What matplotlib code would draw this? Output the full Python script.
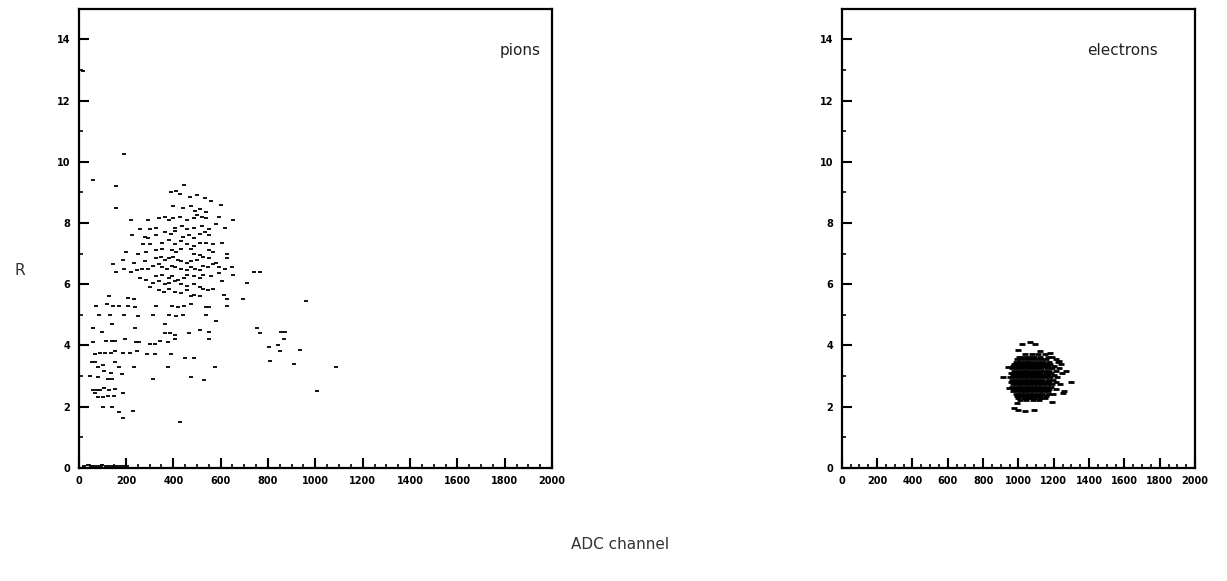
import numpy as np
import matplotlib.pyplot as plt

# pion sample: ADC channel and R
pion_adc = [20, 60, 160, 190, 447, 390, 410, 430, 470, 500, 533, 560, 600, 400, 440, 473,
            490, 515, 540, 160, 340, 365, 380, 400, 430, 460, 487, 500, 520, 540, 593, 653,
            220, 293, 300, 327, 260, 407, 435, 460, 487, 520, 553, 580, 620, 227, 280, 293,
            327, 367, 390, 407, 440, 465, 487, 513, 533, 553, 353, 380, 407, 433, 460, 487,
            513, 540, 567, 607, 273, 300, 327, 353, 393, 413, 433, 473, 487, 513, 553, 567,
            200, 253, 287, 627, 327, 347, 367, 380, 400, 420, 433, 460, 473, 500, 527, 553,
            580, 627, 147, 187, 233, 280, 313, 340, 353, 373, 393, 407, 433, 460, 473, 493,
            513, 527, 547, 567, 593, 620, 647, 160, 193, 220, 247, 267, 293, 327, 353, 380,
            393, 420, 447, 460, 487, 513, 527, 560, 593, 653, 740, 767, 260, 287, 313, 340,
            367, 380, 407, 433, 460, 487, 513, 527, 547, 567, 607, 713, 300, 340, 360, 380,
            407, 433, 460, 473, 487, 513, 613, 627, 693, 960, 127, 207, 233, 73, 120, 147,
            173, 207, 240, 327, 393, 420, 447, 473, 540, 553, 627, 87, 133, 193, 253, 313,
            380, 410, 440, 540, 367, 140, 580, 60, 100, 240, 367, 387, 407, 467, 513, 553,
            753, 767, 873, 856, 63, 116, 143, 156, 196, 243, 256, 303, 323, 343, 376, 409,
            549, 843, 869, 803, 69, 89, 110, 136, 156, 189, 216, 249, 289, 323, 389, 449,
            489, 849, 936, 809, 56, 69, 103, 156, 83, 169, 236, 376, 576, 909, 1089, 49,
            83, 109, 136, 123, 143, 183, 316, 476, 529, 63, 76, 89, 109, 129, 156, 69, 83,
            103, 123, 149, 189, 1009, 103, 143, 169, 229, 189, 429,
            25, 40, 55, 70, 85, 100, 115, 130, 145, 160, 175, 190, 205]
pion_r = [12.95, 9.4, 9.2, 10.25, 9.25, 9.0, 9.05, 8.95, 8.85, 8.9, 8.8, 8.7, 8.6, 8.55, 8.5, 8.55,
          8.4, 8.45, 8.35, 8.5, 8.15, 8.2, 8.1, 8.15, 8.2, 8.1, 8.15, 8.25, 8.2, 8.15, 8.2, 8.1,
          8.1, 8.1, 7.8, 7.85, 7.8, 7.85, 7.9, 7.8, 7.85, 7.9, 7.8, 7.95, 7.85, 7.6, 7.55, 7.5,
          7.6, 7.7, 7.65, 7.75, 7.55, 7.6, 7.5, 7.65, 7.7, 7.6, 7.35, 7.45, 7.3, 7.4, 7.3, 7.25,
          7.35, 7.35, 7.3, 7.35, 7.3, 7.3, 7.1, 7.15, 7.1, 7.05, 7.15, 7.15, 7.0, 6.95, 7.1, 7.05,
          7.05, 7.0, 7.05, 7.0, 6.85, 6.9, 6.8, 6.85, 6.9, 6.8, 6.75, 6.7, 6.75, 6.8, 6.9, 6.85,
          6.7, 6.85, 6.65, 6.8, 6.7, 6.75, 6.6, 6.65, 6.55, 6.5, 6.6, 6.55, 6.5, 6.45, 6.55, 6.5,
          6.45, 6.6, 6.55, 6.65, 6.55, 6.5, 6.55, 6.4, 6.5, 6.4, 6.45, 6.5, 6.5, 6.25, 6.3, 6.2,
          6.25, 6.15, 6.2, 6.3, 6.25, 6.2, 6.3, 6.25, 6.35, 6.3, 6.4, 6.4, 6.2, 6.15, 6.05, 6.1,
          6.0, 6.05, 6.1, 6.0, 5.95, 6.0, 5.9, 5.85, 5.8, 5.85, 6.1, 6.05, 5.9, 5.8, 5.75, 5.85,
          5.75, 5.7, 5.8, 5.6, 5.65, 5.6, 5.65, 5.5, 5.5, 5.45, 5.6, 5.55, 5.5, 5.3, 5.35, 5.3,
          5.3, 5.3, 5.25, 5.3, 5.3, 5.25, 5.3, 5.35, 5.25, 5.25, 5.3, 5.0, 5.0, 5.0, 4.95, 5.0,
          5.0, 4.95, 5.0, 5.0, 4.7, 4.7, 4.8, 4.55, 4.45, 4.55, 4.4, 4.4, 4.35, 4.4, 4.5, 4.45,
          4.55, 4.4, 4.45, 4.45, 4.1, 4.15, 4.15, 4.15, 4.2, 4.1, 4.1, 4.05, 4.05, 4.15, 4.1, 4.2,
          4.2, 4.0, 4.2, 3.95, 3.7, 3.75, 3.75, 3.75, 3.8, 3.75, 3.75, 3.8, 3.7, 3.72, 3.72, 3.6,
          3.6, 3.8, 3.85, 3.5, 3.47, 3.47, 3.37, 3.47, 3.3, 3.3, 3.3, 3.3, 3.3, 3.4, 3.3, 3.0,
          2.98, 3.15, 3.1, 2.9, 2.9, 3.05, 2.9, 2.95, 2.88, 2.55, 2.55, 2.55, 2.6, 2.55, 2.57, 2.45, 2.3,
          2.3, 2.35, 2.35, 2.45, 2.5, 2.0, 2.0, 1.82, 1.85, 1.62, 1.5,
          0.06, 0.08, 0.05, 0.07, 0.06, 0.08, 0.05, 0.07, 0.06, 0.05, 0.07, 0.06, 0.05]

# electron sample, read row by row
e_rows = {
    3.70: [1040, 1075, 1110, 1150],
    3.62: [1005, 1030, 1060, 1090, 1120, 1165, 1190],
    3.55: [990, 1015, 1045, 1070, 1100, 1130, 1155, 1210],
    3.47: [985, 1010, 1035, 1055, 1085, 1110, 1140, 1175, 1225],
    3.40: [975, 1000, 1025, 1050, 1075, 1100, 1125, 1150, 1180, 1240],
    3.32: [970, 995, 1020, 1040, 1065, 1090, 1115, 1140, 1170, 1200],
    3.25: [965, 990, 1010, 1035, 1060, 1080, 1105, 1130, 1160, 1190, 1230],
    3.17: [975, 1000, 1025, 1045, 1070, 1095, 1120, 1145, 1175, 1210],
    3.10: [960, 985, 1010, 1030, 1055, 1080, 1100, 1125, 1155, 1185, 1245],
    3.02: [970, 995, 1020, 1040, 1065, 1090, 1115, 1140, 1170, 1200],
    2.95: [955, 980, 1005, 1030, 1050, 1075, 1100, 1125, 1150, 1180, 1220],
    2.87: [965, 990, 1015, 1040, 1060, 1085, 1110, 1135, 1165, 1195],
    2.80: [960, 985, 1005, 1030, 1050, 1075, 1095, 1120, 1145, 1175, 1215],
    2.72: [970, 995, 1020, 1045, 1065, 1090, 1110, 1135, 1160, 1190, 1235],
    2.65: [965, 990, 1010, 1035, 1055, 1080, 1105, 1130, 1155, 1185],
    2.57: [975, 1000, 1025, 1045, 1070, 1095, 1120, 1150, 1175, 1210],
    2.50: [970, 995, 1020, 1040, 1065, 1090, 1115, 1140, 1170],
    2.42: [985, 1010, 1035, 1060, 1085, 1110, 1135, 1165, 1195],
    2.35: [990, 1015, 1045, 1070, 1100, 1125, 1155],
    2.27: [1000, 1030, 1060, 1090, 1120, 1150],
    2.20: [1010, 1045, 1080, 1115],
}
e_out_adc = [1020, 1065, 1095, 1000, 1120, 1180, 910, 1300, 1250, 1260, 1190, 975, 1000,
             1035, 1090, 990, 1230, 1270, 940, 945]
e_out_r = [4.05, 4.1, 4.05, 3.85, 3.8, 3.75, 2.95, 2.8, 2.45, 2.5, 2.15, 1.95, 1.9,
           1.85, 1.9, 2.1, 3.5, 3.15, 3.3, 2.6]

elec_adc = [a for r in e_rows for a in e_rows[r]] + e_out_adc
elec_r = [r for r in e_rows for a in e_rows[r]] + e_out_r

fig = plt.figure(figsize=(12.27, 5.81), dpi=100)
ax1 = fig.add_axes([0.064, 0.195, 0.386, 0.790])
ax2 = fig.add_axes([0.686, 0.195, 0.288, 0.790])

for ax, x, y, lab, tx, ms, mw in [(ax1, pion_adc, pion_r, "pions", 0.975, 3.2, 1.3),
                                  (ax2, elec_adc, elec_r, "electrons", 0.895, 4.2, 2.0)]:
    ax.plot(x, y, linestyle="none", marker="_", markersize=ms, mew=mw, color="black")
    ax.set_xlim(0, 2000)
    ax.set_ylim(0, 15)
    ax.set_xticks(np.arange(0, 2001, 200))
    ax.set_xticks(np.arange(0, 2001, 50), minor=True)
    ax.set_yticks(np.arange(0, 15, 2))
    ax.set_yticks(np.arange(1, 15, 2), minor=True)
    ax.tick_params(which="major", direction="in", length=7, width=1.5,
                   labelsize=7, pad=6)
    ax.tick_params(which="minor", direction="in", length=3, width=1.2)
    for t in ax.get_xticklabels() + ax.get_yticklabels():
        t.set_fontweight("bold")
    for s in ax.spines.values():
        s.set_linewidth(1.6)
    ax.text(tx, 0.91, lab, transform=ax.transAxes, ha="right", va="center",
            fontsize=11, color="#222222")

fig.text(0.012, 0.535, "R", fontsize=11, color="#333333", va="center")
fig.text(0.505, 0.055, "ADC channel", fontsize=11, color="#333333", ha="center")

plt.savefig("out.png")
